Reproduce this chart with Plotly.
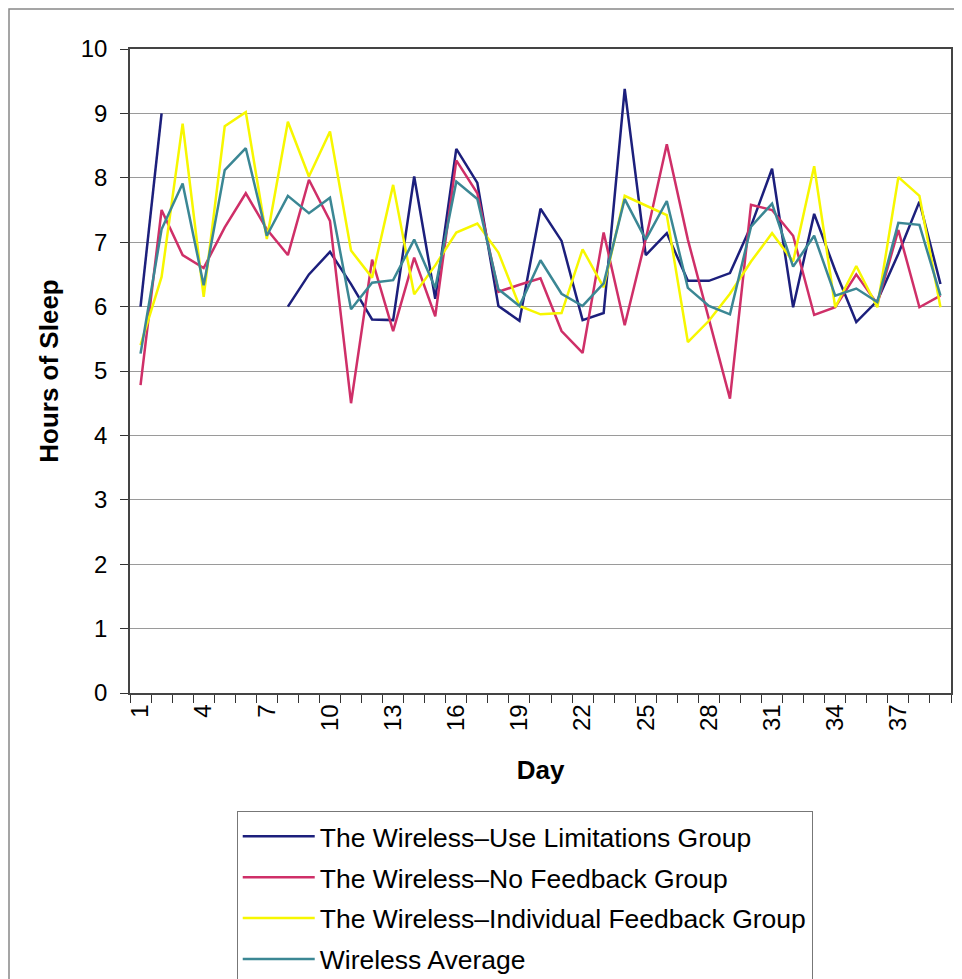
import plotly.graph_objects as go

days = list(range(1, 40))

use_limitations = [6.0, 9.0, None, None, None, None, None, 6.0, 6.5, 6.85,
                   6.35, 5.8, 5.79, 8.02, 6.12, 8.45, 7.92, 6.01, 5.78, 7.52,
                   7.02, 5.79, 5.9, 9.38, 6.8, 7.14, 6.4, 6.4, 6.52, 7.25,
                   8.14, 5.99, 7.44, 6.56, 5.76, 6.09, 6.82, 7.63, 6.35]

no_feedback = [4.78, 7.5, 6.8, 6.6, 7.23, 7.76, 7.2, 6.8, 7.97, 7.33,
               4.5, 6.73, 5.62, 6.76, 5.85, 8.27, 7.76, 6.23, 6.34, 6.44,
               5.62, 5.28, 7.15, 5.71, 7.05, 8.52, 7.04, 5.82, 4.57, 7.58,
               7.5, 7.1, 5.87, 5.99, 6.5, 6.04, 7.19, 5.99, 6.17]

individual_feedback = [5.4, 6.46, 8.84, 6.15, 8.8, 9.02, 7.05, 8.87, 8.02, 8.72,
                       6.87, 6.45, 7.89, 6.19, 6.64, 7.15, 7.29, 6.84, 6.01, 5.88,
                       5.9, 6.89, 6.3, 7.72, 7.57, 7.42, 5.45, 5.78, 6.2, 6.7,
                       7.14, 6.7, 8.18, 5.99, 6.63, 5.99, 8.01, 7.72, 5.99]

wireless_average = [5.27, 7.2, 7.91, 6.33, 8.12, 8.46, 7.1, 7.72, 7.45, 7.69,
                    5.96, 6.37, 6.41, 7.04, 6.29, 7.94, 7.67, 6.27, 6.01, 6.72,
                    6.2, 6.01, 6.36, 7.67, 7.04, 7.64, 6.29, 6.01, 5.88, 7.24,
                    7.6, 6.62, 7.1, 6.17, 6.28, 6.07, 7.3, 7.27, 6.17]

series_names = ["The Wireless\u2013Use Limitations Group",
                "The Wireless\u2013No Feedback Group",
                "The Wireless\u2013Individual Feedback Group",
                "Wireless Average"]
series_values = [use_limitations, no_feedback, individual_feedback, wireless_average]
series_colors = ["#1c1f7c", "#cf2f68", "#f7f700", "#3b8794"]

x_tick_days = list(range(1, 40, 3))

fig = go.Figure()
for name, vals, col in zip(series_names, series_values, series_colors):
    fig.add_trace(go.Scatter(x=days, y=vals, mode="lines", name=name,
                             legendgroup=name,
                             line=dict(color=col, width=2.5),
                             connectgaps=False))

font_family = "Liberation Sans, Arial, sans-serif"

# the page body adds an 8px offset, so the figure is slightly smaller
fig.update_layout(
    width=954, height=971,
    margin=dict(l=122, r=11, t=41, b=286, autoexpand=False),
    paper_bgcolor="white", plot_bgcolor="white",
    font=dict(family=font_family, color="black", size=24),
    showlegend=True,
    legend=dict(x=0.130, y=-0.184, xanchor="left", yanchor="top",
                bordercolor="#777", borderwidth=1, bgcolor="white",
                font=dict(size=26.5, family=font_family, color="black"),
                itemwidth=72,
                tracegroupgap=3.5, traceorder="grouped"),
)

fig.update_xaxes(
    range=[0.5, 39.5], automargin=False,
    tickmode="array", tickvals=x_tick_days, ticktext=[str(d) for d in x_tick_days],
    tickangle=-90, ticks="outside", ticklen=0,
    minor=dict(tickmode="linear", tick0=0.5, dtick=1, ticks="outside",
               ticklen=8, tickcolor="#333", tickwidth=1, showgrid=False),
    showgrid=False, zeroline=False,
    showline=True, linecolor="#444", linewidth=1.5, mirror=True,
    tickfont=dict(size=24),
    title=dict(text="<b>Day</b>", font=dict(size=26), standoff=31),
)

fig.update_yaxes(
    range=[0, 10], tickmode="linear", tick0=0, dtick=1, automargin=False,
    ticks="outside", ticklen=8, tickcolor="#333", ticklabelstandoff=8,
    showgrid=True, gridcolor="#9a9a9a", gridwidth=1,
    zeroline=False,
    showline=True, linecolor="#444", linewidth=1.5, mirror=True,
    tickfont=dict(size=24),
    title=dict(text="<b>Hours of Sleep</b>", font=dict(size=26), standoff=15),
)

# outer chart border (screen coords: plot area 130..951 x, 49..693 y)
fig.add_shape(type="rect", xref="paper", yref="paper",
              x0=(9 - 130) / 821, x1=(975 - 130) / 821,
              y0=(693 - 1000) / 644, y1=(693 - 9) / 644,
              line=dict(color="#888", width=1.5), fillcolor="rgba(0,0,0,0)",
              layer="below")

fig.write_html("out.html")
